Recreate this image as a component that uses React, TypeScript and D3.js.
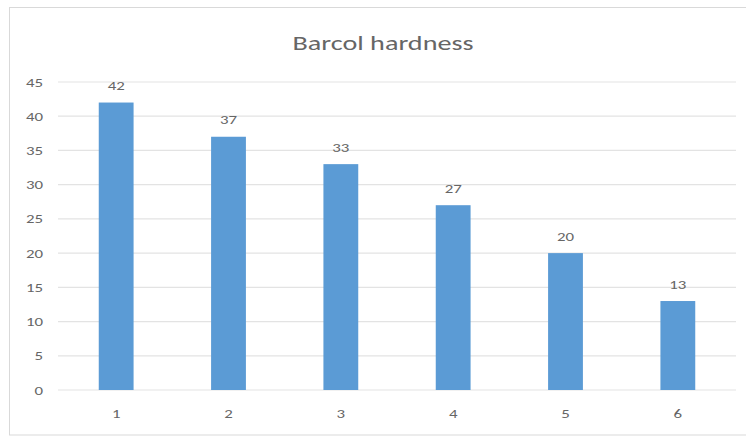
import React from "react";
import * as d3 from "d3";

const categories = ["1", "2", "3", "4", "5", "6"];
const values = [42, 37, 33, 27, 20, 13];
const yTicks = [0, 5, 10, 15, 20, 25, 30, 35, 40, 45];
const title = "Barcol hardness";

export default function App() {
  const W = 746, H = 437;
  const left = 60, right = 734, top = 82, bottom = 390;
  const sx = 1.35;
  const x = d3.scaleBand().domain(categories).range([left, right]).paddingInner(0.69).paddingOuter(0.345);
  const y = d3.scaleLinear().domain([0, 45]).range([bottom, top]);
  const font = "Calibri, Carlito, Lato, 'Open Sans', sans-serif";
  const label = (tx: number, ty: number, s: string, anchor: string, key?: string) => (
    <text key={key} transform={`translate(${tx},${ty}) scale(${sx},1)`} textAnchor={anchor} fontSize={12.5} fill="#666">{s}</text>
  );
  return (
    <svg width={W} height={H} style={{ position: "absolute", left: 0, top: 0, background: "#fff" }} fontFamily={font}>
      <rect x={9.5} y={7.5} width={745} height={427.5} fill="#fff" stroke="#d9d9d9" />
      <text x={383} y={50} textAnchor="middle" fontSize={20} fill="#666" textLength={181} lengthAdjust="spacingAndGlyphs">{title}</text>
      {yTicks.map(t => (
        <g key={t}>
          <line x1={58} x2={736} y1={y(t)} y2={y(t)} stroke="#e3e3e3" strokeWidth={1.2} />
          {label(43, y(t) + 4.5, String(t), "end")}
        </g>
      ))}
      {categories.map((c, i) => {
        const cx = (x(c) || 0) + x.bandwidth() / 2;
        return (
          <g key={c}>
            <rect x={x(c)} y={y(values[i])} width={x.bandwidth()} height={y(0) - y(values[i])} fill="#5b9bd5" />
            {label(cx, y(values[i]) - 12.5, String(values[i]), "middle")}
            {label(cx, 418, c, "middle")}
          </g>
        );
      })}
    </svg>
  );
}
